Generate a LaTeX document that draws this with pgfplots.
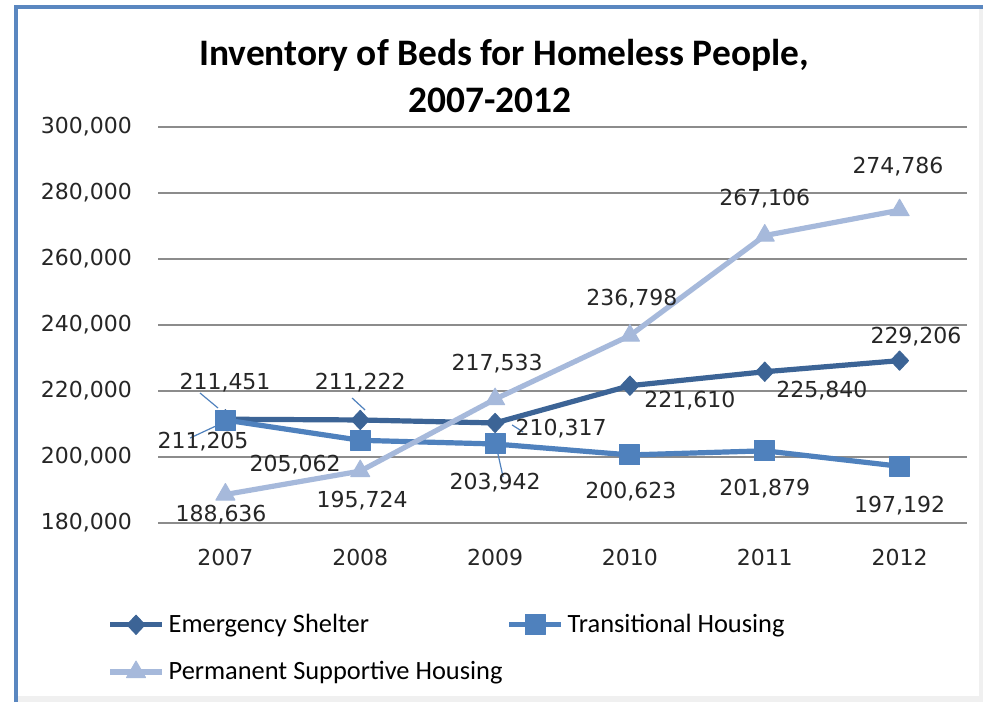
\documentclass[border=0pt]{standalone}
\usepackage{fontspec}
\setmainfont{DejaVu Sans}
\newfontfamily\carlito{Carlito}
\usepackage{pgfplots}
\pgfplotsset{compat=1.18}
\definecolor{cES}{HTML}{3C6496}
\definecolor{cTH}{HTML}{4F81BD}
\definecolor{cPSH}{HTML}{A6B9DB}
\definecolor{frameblue}{HTML}{5A87C0}
\definecolor{gridgray}{HTML}{8C8C8C}
\definecolor{txt}{HTML}{262626}
\tikzset{lab/.style={font=\fontsize{11}{13}\selectfont, text=txt, inner sep=0pt}}
\begin{document}
\begin{tikzpicture}
\begin{scope}[x=0.5pt,y=0.5pt]
\path[use as bounding box] (0,0) rectangle (983,702);
\fill[white] (0,0) rectangle (983,702);
\fill[black!6] (17,0) rectangle (983,6);
\fill[black!6] (979,0) rectangle (983,694);
\draw[frameblue, line width=2pt] (16,0) -- (16,695) -- (983,695);
\node[font=\carlito\bfseries\fontsize{18.7}{22}\selectfont, text=black] at (504,647) {Inventory of Beds for Homeless People,};
\node[font=\carlito\bfseries\fontsize{18.7}{22}\selectfont, text=black] at (490,602) {2007-2012};
\end{scope}
\begin{axis}[
  at={(79pt,89.5pt)}, anchor=south west,
  width=404.5pt, height=198pt, scale only axis,
  clip=false,
  xmin=-0.5, xmax=5.5, ymin=180000, ymax=300000,
  xtick={0,1,2,3,4,5}, xticklabels={2007,2008,2009,2010,2011,2012},
  ytick={180000,200000,220000,240000,260000,280000,300000},
  axis x line*=bottom, axis y line*=left,
  x axis line style={gridgray, line width=0.75pt},
  y axis line style={draw=none},
  major tick length=0pt,
  ymajorgrids, grid style={gridgray, line width=0.75pt},
  tick label style={font=\fontsize{11}{13}\selectfont, text=txt},
  yticklabel style={xshift=-9.5pt},
  xticklabel style={yshift=-9.3pt},
  /pgf/number format/.cd, fixed, 1000 sep={,}, assume math mode=true,
  /pgfplots/.cd,
  scaled y ticks=false,
  legend columns=2,
  legend cell align=left,
  legend style={at={(-0.063,-0.219)}, anchor=north west, draw=none, fill=none, inner sep=0pt,
    font=\carlito\fontsize{13.2}{15}\selectfont, row sep=9pt,
    /tikz/every even column/.append style={column sep=0pt}},
  legend image code/.code={\draw[mark repeat=2,mark phase=2] plot coordinates {(0pt,0pt) (13pt,0pt) (26pt,0pt)};},
]
\addplot[cES, line width=2.6pt, line join=round, mark=diamond*, mark size=4.8pt, mark options={solid, line width=0.5pt, xscale=1.25}]
  coordinates {(0,211451)(1,211222)(2,210317)(3,221610)(4,225840)(5,229206)};
\addlegendentry{Emergency Shelter}
\addplot[cTH, line width=2.6pt, line join=round, mark=square*, mark size=5pt, mark options={solid, line width=0.5pt}]
  coordinates {(0,211205)(1,205062)(2,203942)(3,200623)(4,201879)(5,197192)};
\addlegendentry{Transitional Housing}
\addplot[cPSH, line width=2.6pt, line join=round, mark=triangle*, mark size=5.5pt, mark options={solid, line width=0.5pt}]
  coordinates {(0,188636)(1,195724)(2,217533)(3,236798)(4,267106)(5,274786)};
\addlegendentry{Permanent Supportive Housing}

% leader lines
\draw[cTH, line width=0.6pt] ([xshift=-12.7pt,yshift=13.1pt]axis cs:0,211451) -- ([xshift=-3.7pt,yshift=5.6pt]axis cs:0,211451);
\draw[cTH, line width=0.6pt] ([xshift=-4.1pt,yshift=11pt]axis cs:1,211222) -- ([xshift=2.4pt,yshift=5pt]axis cs:1,211222);
\draw[cTH, line width=0.6pt] ([xshift=8.5pt,yshift=-1pt]axis cs:2,210317) -- ([xshift=14pt,yshift=-4.5pt]axis cs:2,210317);
\draw[cTH, line width=0.6pt] ([xshift=-17.7pt,yshift=-9pt]axis cs:0,211205) -- ([xshift=-3.7pt,yshift=-2.5pt]axis cs:0,211205);
\draw[cTH, line width=0.6pt] ([xshift=1pt,yshift=-3pt]axis cs:2,203942) -- ([xshift=4pt,yshift=-16.5pt]axis cs:2,203942);

% ES labels
\node[lab, xshift=-0.2pt, yshift=18.1pt] at (axis cs:0,211451) {211,451};
\node[lab, xshift=0pt, yshift=18.5pt] at (axis cs:1,211222) {211,222};
\node[lab, xshift=33pt, yshift=-3pt] at (axis cs:2,210317) {210,317};
\node[lab, xshift=30pt, yshift=-7.6pt] at (axis cs:3,221610) {221,610};
\node[lab, xshift=28.6pt, yshift=-9.6pt] at (axis cs:4,225840) {225,840};
\node[lab, xshift=8.2pt, yshift=11.8pt] at (axis cs:5,229206) {229,206};
% TH labels
\node[lab, xshift=-11.2pt, yshift=-11pt] at (axis cs:0,211205) {211,205};
\node[lab, xshift=-32.6pt, yshift=-12.4pt] at (axis cs:1,205062) {205,062};
\node[lab, xshift=0pt, yshift=-19.5pt] at (axis cs:2,203942) {203,942};
\node[lab, xshift=0.5pt, yshift=-18.5pt] at (axis cs:3,200623) {200,623};
\node[lab, xshift=0pt, yshift=-19.1pt] at (axis cs:4,201879) {201,879};
\node[lab, xshift=0pt, yshift=-19.9pt] at (axis cs:5,197192) {197,192};
% PSH labels
\node[lab, xshift=-2.2pt, yshift=-10.3pt] at (axis cs:0,188636) {188,636};
\node[lab, xshift=0.9pt, yshift=-14.5pt] at (axis cs:1,195724) {195,724};
\node[lab, xshift=1pt, yshift=18pt] at (axis cs:2,217533) {217,533};
\node[lab, xshift=1pt, yshift=18.3pt] at (axis cs:3,236798) {236,798};
\node[lab, xshift=0pt, yshift=18.3pt] at (axis cs:4,267106) {267,106};
\node[lab, xshift=-0.8pt, yshift=21.6pt] at (axis cs:5,274786) {274,786};
\end{axis}
\end{tikzpicture}
\end{document}
